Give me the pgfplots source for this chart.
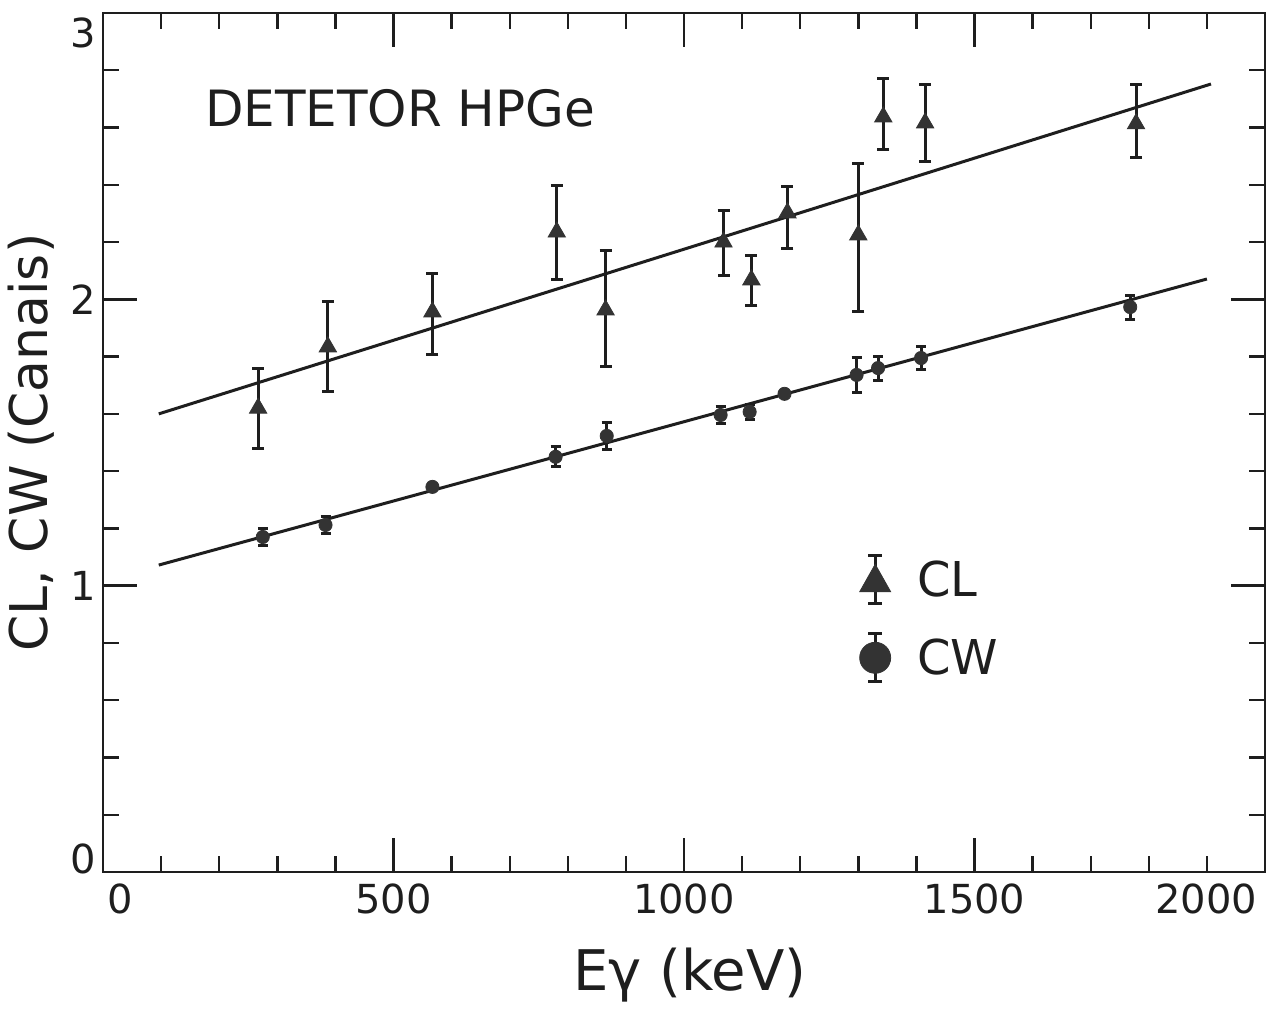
\documentclass[border=0pt]{standalone}
\usepackage{pgfplots}
\pgfplotsset{compat=1.18}
\usepackage{fontspec}
\setmainfont{DejaVu Sans}
\definecolor{ink}{HTML}{1E1E1E}
\definecolor{mk}{HTML}{333333}
\begin{document}
\begin{tikzpicture}
\begin{axis}[
  at={(0,0)}, anchor=south west,
  scale only axis, width=581pt, height=429.5pt,
  xmin=0, xmax=2000, ymin=0, ymax=3,
  xtick={0,500,1000,1500,2000}, minor x tick num=4,
  ytick={0,1,2,3}, minor y tick num=4,
  xticklabels={{\makebox[0pt][l]{\hspace{2pt}0}},500,1000,1500,{\makebox[0pt][r]{2000\hspace{4pt}}}},
  yticklabels={,1,2,},
  tick align=inside, major tick length=17pt, minor tick length=8pt,
  axis line style={line width=1.4pt, ink},
  every tick/.style={line width=1.2pt, ink},
  /pgf/number format/assume math mode=true,
  ticklabel style={font=\fontsize{20}{20}\selectfont, text=ink},
  xticklabel style={yshift=-2.5pt},
  xlabel={Eγ (keV)},
  xlabel style={at={(axis description cs:0.505,0)}, anchor=center, yshift=-51.5pt, font=\fontsize{28}{28}\selectfont, text=ink},
  ylabel={CL, CW (Canais)},
  ylabel style={at={(axis description cs:0,0.5)}, anchor=center, yshift=36pt, font=\fontsize{26}{26}\selectfont, text=ink},
  clip=false,
  legend cell align=left,
  legend style={draw=none, fill=none, at={(axis cs:1301,1.111)}, anchor=north west,
    inner sep=0pt, row sep=13.5pt, column sep=13pt,
    font=\fontsize{24}{24}\selectfont, text=ink, nodes={inner sep=0pt}},
]
% fit lines
\addplot[ink, line width=1.5pt, forget plot] coordinates {(96,1.600) (1907,2.752)};
\addplot[ink, line width=1.5pt, forget plot] coordinates {(96,1.072) (1900,2.071)};
% CL
\addplot[forget plot, only marks, mark=triangle*, mark size=5pt, mk, mark options={fill=mk, draw=mk},
  error bars/.cd, y dir=both, y explicit,
  error bar style={line width=1.5pt, ink},
  error mark options={rotate=90, mark size=3pt, line width=1.5pt, ink}]
coordinates {
 (267,1.620)  += (0,0.140) -= (0,0.140)
 (387,1.834)  += (0,0.160) -= (0,0.157)
 (567,1.956)  += (0,0.133) -= (0,0.147)
 (781,2.235)  += (0,0.161) -= (0,0.164)
 (865,1.963)  += (0,0.209) -= (0,0.199)
 (1068,2.200) += (0,0.109) -= (0,0.118)
 (1116,2.068) += (0,0.084) -= (0,0.088)
 (1178,2.302) += (0,0.091) -= (0,0.126)
 (1300,2.225) += (0,0.251) -= (0,0.266)
 (1343,2.637) += (0,0.133) -= (0,0.112)
 (1415,2.616) += (0,0.133) -= (0,0.133)
 (1778,2.613) += (0,0.139) -= (0,0.116)
};
% CW
\addplot[forget plot, only marks, mark=*, mark size=3.3pt, mk, mark options={fill=mk, draw=mk},
  error bars/.cd, y dir=both, y explicit,
  error bar style={line width=1.5pt, ink},
  error mark options={rotate=90, mark size=2.5pt, line width=1.5pt, ink}]
coordinates {
 (275,1.170)  +- (0,0.028)
 (383,1.212)  +- (0,0.030)
 (567,1.345)  +- (0,0.005)
 (779,1.450)  +- (0,0.035)
 (867,1.523)  +- (0,0.047)
 (1063,1.596) +- (0,0.030)
 (1113,1.607) +- (0,0.027)
 (1173,1.670) +- (0,0.005)
 (1297,1.736) +- (0,0.060)
 (1334,1.760) +- (0,0.042)
 (1408,1.795) +- (0,0.040)
 (1768,1.973) +- (0,0.042)
};
\addlegendimage{legend image code/.code={
  \draw[ink, line width=1.5pt] (0pt,-12pt) -- (0pt,12pt) (-3.5pt,-12pt) -- (3.5pt,-12pt) (-3.5pt,12pt) -- (3.5pt,12pt);
  \fill[mk] (-7.75pt,-6pt) -- (7.75pt,-6pt) -- (0pt,7.75pt) -- cycle;
}}
\addlegendentry{CL}
\addlegendimage{legend image code/.code={
  \draw[ink, line width=1.5pt] (0pt,-12pt) -- (0pt,12pt) (-3.5pt,-12pt) -- (3.5pt,-12pt) (-3.5pt,12pt) -- (3.5pt,12pt);
  \fill[mk] (0pt,0pt) circle (7.75pt);
}}
\addlegendentry{CW}
\node[anchor=west, inner sep=0pt, font=\fontsize{25}{25}\selectfont, text=ink] at (axis cs:175,2.668) {DETETOR HPGe};
\node[anchor=east, font=\fontsize{20}{20}\selectfont, text=ink] at (axis cs:0,2.93) {3};
\node[anchor=east, font=\fontsize{20}{20}\selectfont, text=ink] at (axis cs:0,0.045) {0};
\end{axis}
\pgfresetboundingbox
\path[use as bounding box] (-51.5pt,-70.5pt) rectangle (584.5pt,436pt);
\end{tikzpicture}
\end{document}
